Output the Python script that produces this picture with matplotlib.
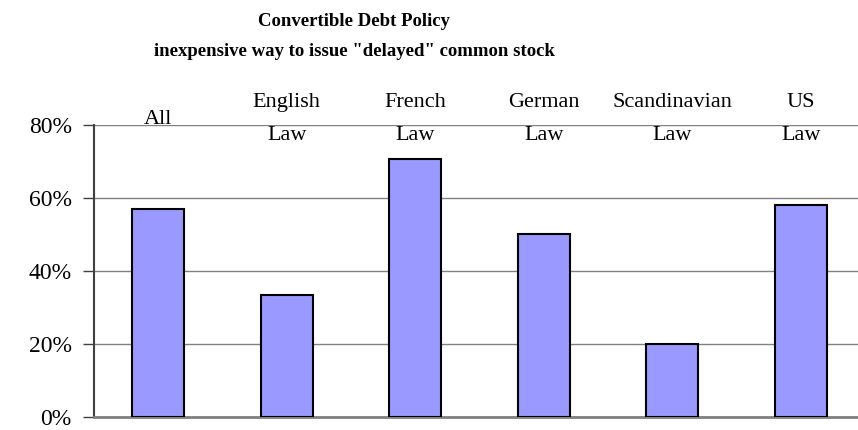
import matplotlib
matplotlib.use("Agg")
import matplotlib.pyplot as plt
import matplotlib.transforms as mtransforms
from matplotlib.ticker import PercentFormatter

plt.rcParams["font.family"] = ["Liberation Serif", "DejaVu Serif"]

categories = ["All", "English\nLaw", "French\nLaw", "German\nLaw", "Scandinavian\nLaw", "US\nLaw"]
share = [57.0, 33.4, 70.6, 50.0, 20.0, 58.1]
yticks = [0, 20, 40, 60, 80]

BAR_COLOR = "#9999FF"
GRID_COLOR = "#808080"

fig = plt.figure(figsize=(8.58, 4.30), dpi=100)
ax = fig.add_axes([94 / 858, 13.3 / 430, 771 / 858, 292 / 430])

x = list(range(len(categories)))
ax.bar(x, share, width=0.405, color=BAR_COLOR, edgecolor="black", linewidth=1.5, zorder=3)

ax.set_xlim(-0.5, 5.5)
ax.set_ylim(0, 80)
ax.set_yticks(yticks)
ax.yaxis.set_major_formatter(PercentFormatter(decimals=0))
ax.tick_params(axis="y", direction="out", length=8, width=1, color="#404040",
               labelsize=17, pad=8)
ax.set_xticks([])

ax.yaxis.grid(True, color=GRID_COLOR, linewidth=1)
ax.set_axisbelow(True)
for side in ("top", "right"):
    ax.spines[side].set_visible(False)
ax.spines["left"].set_color("#404040")
ax.spines["left"].set_linewidth(1.5)
ax.spines["bottom"].set_color(GRID_COLOR)
ax.spines["bottom"].set_linewidth(2)

# category labels sit across the top gridline
trans = mtransforms.blended_transform_factory(ax.transData, ax.transAxes)
for xi, lab in zip(x, categories):
    ax.text(xi, 1.019, lab, transform=trans, ha="center", va="center",
            multialignment="center", fontsize=16, linespacing=2.0)

fig.text(0.413, 0.915, "Convertible Debt Policy\ninexpensive way to issue \"delayed\" common stock",
         ha="center", va="center", fontsize=13.5, fontweight="bold", linespacing=2.0)

fig.savefig("out.png", dpi=100)
plt.close(fig)
